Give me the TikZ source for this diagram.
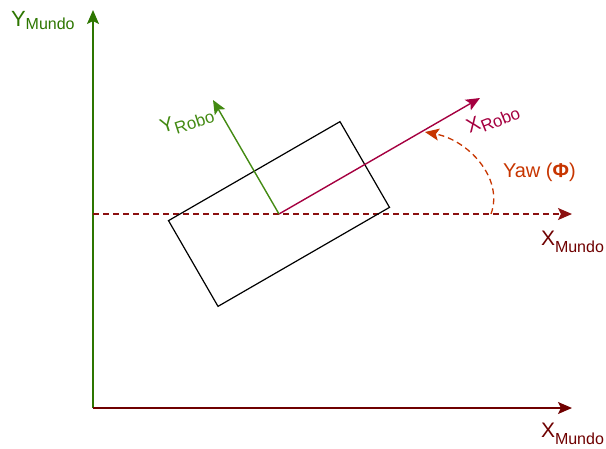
\documentclass[tikz,border=0pt]{standalone}
\usepackage{fontspec}
\setmainfont{Liberation Sans}
\usetikzlibrary{arrows.meta}
\definecolor{ymundo}{HTML}{2D7600}
\definecolor{xmundo}{HTML}{6F0000}
\definecolor{dashred}{HTML}{8B1010}
\definecolor{xrobo}{HTML}{A50040}
\definecolor{yrobo}{HTML}{438A12}
\definecolor{yaw}{HTML}{C73500}
\newcommand{\axlbl}[5]{{\fontsize{#3}{#3}\selectfont #1}\raisebox{-#4}{\fontsize{#5}{#5}\selectfont #2}}
\begin{document}
\begin{tikzpicture}[x=1pt,y=-1pt,
  tipb/.style={-{Stealth[length=14pt,width=12pt,inset=3pt]}},
  axline/.style={line width=1.4pt},
  dashline/.style={line width=1.3pt,dash pattern=on 6pt off 4pt},
  lbl/.style={inner sep=0pt,outer sep=0pt}]
\useasboundingbox (0,0) rectangle (606,448);
% coordinates
\coordinate (O) at (93,408);
\coordinate (Ytop) at (93,10);
\coordinate (Xend) at (572,408);
\coordinate (Dstart) at (93,214);
\coordinate (Dend) at (572,214);
\coordinate (R) at (279,214);
\coordinate (XRtip) at (480,98);
\coordinate (YRtip) at (213,100);
\coordinate (YawS) at (491,214);
\coordinate (YawE) at (425,132);
% world axes
\draw[axline,ymundo,tipb] (O) -- (Ytop);
\draw[axline,xmundo,tipb] (O) -- (Xend);
\draw[dashline,dashred,tipb] (Dstart) -- (Dend);
% robot body
\node[draw=black,rotate=30,minimum width=198pt,minimum height=99pt,line width=1.2pt,inner sep=0pt] (body) at (R) {};
% robot axes
\draw[axline,xrobo,tipb] (R) -- (XRtip);
\draw[axline,yrobo,tipb] (R) -- (YRtip);
% yaw arc
\draw[dashline,yaw,tipb] (YawS) .. controls (504,178) and (468,140) .. (YawE);
% labels
\node[lbl,anchor=base west,text=ymundo] (lYM) at (11,26) {\axlbl{Y}{Mundo}{22}{3pt}{16}};
\node[lbl,anchor=base west,text=xmundo] (lXM1) at (541,245) {\axlbl{X}{Mundo}{21}{7pt}{16}};
\node[lbl,anchor=base west,text=xmundo] (lXM2) at (541,437) {\axlbl{X}{Mundo}{21}{7pt}{16}};
\node[lbl,text=xrobo,rotate=22] (lXR) at (493,119) {\axlbl{X}{Robo}{20}{5pt}{17}};
\node[lbl,text=yrobo,rotate=18] (lYR) at (187,121) {\axlbl{Y}{Robo}{20}{5pt}{17}};
\node[lbl,anchor=base west,text=yaw] (lYaw) at (503,177) {\fontsize{20}{20}\selectfont Yaw (\textbf{Φ})};
\end{tikzpicture}
\end{document}
